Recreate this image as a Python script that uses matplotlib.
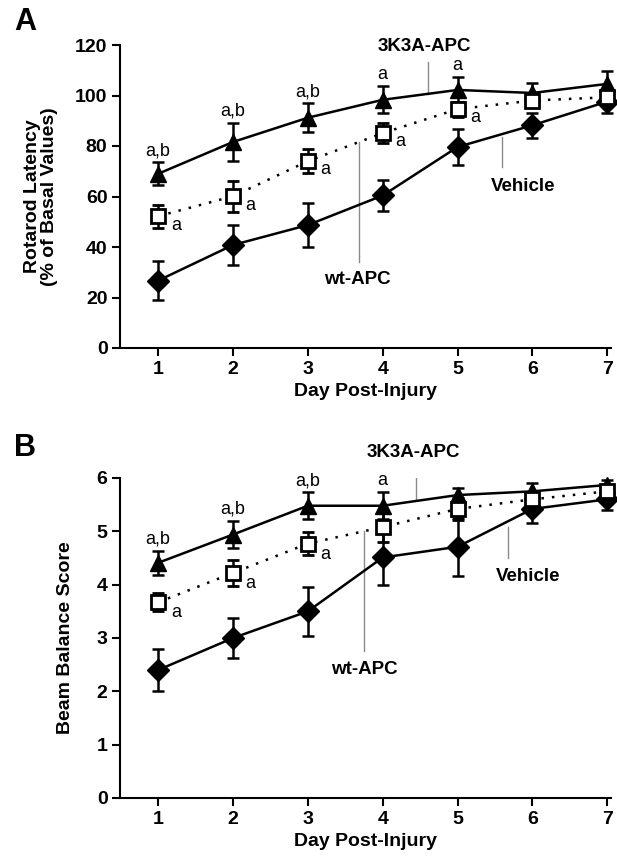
import matplotlib
matplotlib.use('Agg')
import matplotlib.pyplot as plt

plt.rcParams['font.family'] = ['Liberation Sans', 'DejaVu Sans']

# data
days = [1, 2, 3, 4, 5, 6, 7]

rot_3k3a = [69, 81.6, 91.2, 98.3, 102.2, 101, 104.6]
rot_3k3a_err = [4.6, 7.5, 5.8, 5.3, 5.3, 4.0, 5.0]
rot_wt = [52.2, 60.1, 74, 85.1, 94.6, 98, 99.3]
rot_wt_err = [4.5, 6.2, 4.8, 4.0, 3.0, 2.5, 2.5]
rot_veh = [26.7, 40.8, 48.7, 60.4, 79.6, 88.2, 97.6]
rot_veh_err = [7.7, 7.9, 8.7, 6.3, 7.3, 5.0, 4.4]

beam_3k3a = [4.41, 4.94, 5.48, 5.48, 5.68, 5.75, 5.87]
beam_3k3a_err = [0.23, 0.26, 0.25, 0.25, 0.14, 0.15, 0.1]
beam_wt = [3.67, 4.22, 4.77, 5.08, 5.42, 5.6, 5.75]
beam_wt_err = [0.17, 0.24, 0.21, 0.28, 0.2, 0.12, 0.1]
beam_veh = [2.4, 3.0, 3.5, 4.51, 4.71, 5.42, 5.6]
beam_veh_err = [0.4, 0.37, 0.46, 0.51, 0.54, 0.27, 0.2]

rot_sig_3k3a = ['a,b', 'a,b', 'a,b', 'a', 'a', '', '']
rot_sig_wt = ['a', 'a', 'a', 'a', 'a', '', '']
beam_sig_3k3a = ['a,b', 'a,b', 'a,b', 'a', '', '', '']
beam_sig_wt = ['a', 'a', 'a', '', '', '', '']

W, H = 617, 858
fig = plt.figure(figsize=(W / 100, H / 100), dpi=100)


def px_axes(left, top, right, bottom):
    return fig.add_axes([left / W, 1 - bottom / H, (right - left) / W, (bottom - top) / H])


def panel(ax, v3k, e3k, vwt, ewt, vveh, eveh, ymax, ystep, sig3k, sigwt, dy_sig, dy_wt):
    common = dict(color='black', elinewidth=1.8, capsize=4, capthick=1.8, clip_on=False)
    ax.errorbar(days, vveh, yerr=eveh, marker='D', markersize=11, lw=1.8, zorder=3, **common)
    ax.errorbar(days, v3k, yerr=e3k, marker='^', markersize=12, lw=1.8, zorder=3, **common)
    ax.errorbar(days, vwt, yerr=ewt, marker='s', markersize=10.5, mfc='white', mec='black',
                mew=2, ls=(0, (1, 3.2)), lw=1.8, zorder=4, **common)

    for d, v, e, s in zip(days, v3k, e3k, sig3k):
        if s:
            ax.text(d, v + e + dy_sig, s, ha='center', va='bottom', fontsize=13)
    for d, v, s in zip(days, vwt, sigwt):
        if s:
            ax.text(d + 0.17, v - dy_wt, s, ha='left', va='center', fontsize=13)

    ax.set_xlim(0.49, 7.05)
    ax.set_ylim(0, ymax)
    ax.set_xticks(days)
    ax.set_yticks([i * ystep for i in range(int(round(ymax / ystep)) + 1)])
    for s in ['top', 'right']:
        ax.spines[s].set_visible(False)
    for s in ['left', 'bottom']:
        ax.spines[s].set_linewidth(1.5)
    ax.tick_params(width=1.5, length=6, labelsize=14, pad=3)
    for lab in ax.get_xticklabels() + ax.get_yticklabels():
        lab.set_fontweight('bold')
    ax.set_xlabel('Day Post-Injury', fontsize=14, fontweight='bold', labelpad=4)


# panel A
axA = px_axes(120, 45, 611, 348)
panel(axA, rot_3k3a, rot_3k3a_err, rot_wt, rot_wt_err, rot_veh, rot_veh_err,
      120, 20, rot_sig_3k3a, rot_sig_wt, 1.2, 3.5)
axA.set_ylabel('Rotarod Latency\n(% of Basal Values)', fontsize=14, fontweight='bold',
               linespacing=1.0, labelpad=12)
gray = '#8a8a8a'
axA.text(4.55, 119.5, '3K3A-APC', ha='center', va='center', fontsize=13.5, fontweight='bold')
axA.plot([4.61, 4.61], [100.7, 113.2], color=gray, lw=1)
axA.text(3.66, 27, 'wt-APC', ha='center', va='center', fontsize=13.5, fontweight='bold')
axA.plot([3.68, 3.68], [34.2, 81.6], color=gray, lw=1)
axA.text(5.87, 63.8, 'Vehicle', ha='center', va='center', fontsize=13.5, fontweight='bold')
axA.plot([5.6, 5.6], [71.7, 83.6], color=gray, lw=1)
fig.text(14 / W, 1 - 22 / H, 'A', fontsize=22, fontweight='bold', ha='left', va='center')

# panel B
axB = px_axes(120, 478, 611, 798)
panel(axB, beam_3k3a, beam_3k3a_err, beam_wt, beam_wt_err, beam_veh, beam_veh_err,
      6, 1, beam_sig_3k3a, beam_sig_wt, 0.06, 0.2)
axB.set_ylabel('Beam Balance Score', fontsize=14, fontweight='bold', labelpad=16)
axB.text(4.41, 6.47, '3K3A-APC', ha='center', va='center', fontsize=13.5, fontweight='bold')
axB.plot([4.45, 4.45], [5.6, 6.16], color=gray, lw=1)
axB.text(3.76, 2.41, 'wt-APC', ha='center', va='center', fontsize=13.5, fontweight='bold')
axB.plot([3.75, 3.75], [2.75, 5.0], color=gray, lw=1)
axB.text(5.94, 4.16, 'Vehicle', ha='center', va='center', fontsize=13.5, fontweight='bold')
axB.plot([5.68, 5.68], [4.5, 5.09], color=gray, lw=1)
fig.text(14 / W, 1 - 448 / H, 'B', fontsize=22, fontweight='bold', ha='left', va='center')

fig.savefig('out.png', dpi=100)
